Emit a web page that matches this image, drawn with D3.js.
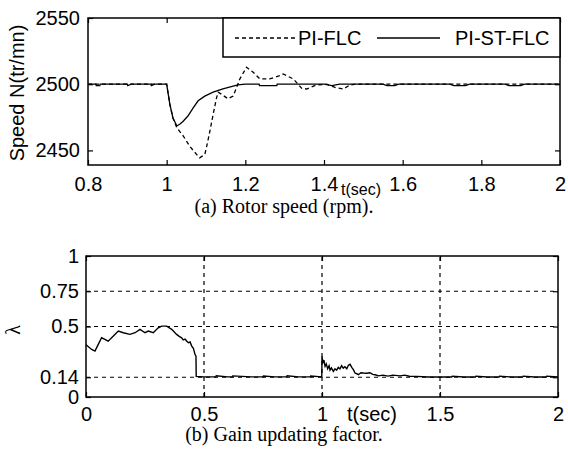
<!DOCTYPE html>
<html>
<head>
<meta charset="utf-8">
<script src="https://cdn.jsdelivr.net/npm/d3@7"></script>
<style>
  body { margin: 0; background: #fff; }
  text { fill: #000; }
</style>
</head>
<body>
<div id="chart"></div>
<script>
// (a) rotor speed, rpm
const flcTime  = [0.8, 1.0, 1.008, 1.016, 1.026, 1.042, 1.059, 1.076, 1.084, 1.097, 1.101, 1.11, 1.118, 1.127, 1.131, 1.139, 1.156, 1.169, 1.178, 1.186, 1.203, 1.22, 1.237, 1.262, 1.288, 1.296, 1.322, 1.343, 1.356, 1.381, 1.407, 1.428, 1.449, 1.466, 1.48, 2.0];
const flcSpeed = [2500, 2500, 2485, 2474.5, 2467, 2461, 2453, 2447, 2444.4, 2447, 2452, 2464.7, 2477, 2490, 2494, 2492.5, 2489, 2491, 2497.6, 2504, 2512.8, 2509, 2504, 2504, 2506.5, 2507.7, 2504, 2497, 2496.4, 2499.4, 2500, 2497.6, 2496.4, 2499.4, 2500, 2500];

const stTime  = [0.8, 0.82, 0.821, 0.83, 0.831, 0.9, 0.901, 0.91, 0.96, 0.961, 0.97, 1.0, 1.008, 1.016, 1.026, 1.034, 1.042, 1.054, 1.067, 1.08, 1.097, 1.118, 1.143, 1.169, 1.181, 1.2, 1.235, 1.236, 1.28, 1.281, 1.4, 1.42, 1.44, 1.55, 1.56, 1.58, 1.59, 1.72, 1.73, 1.76, 1.77, 1.86, 1.87, 1.9, 1.91, 2.0];
const stSpeed = [2500, 2500, 2499, 2499, 2500, 2500, 2499, 2500, 2500, 2499, 2500, 2500, 2485, 2474.5, 2468.5, 2470, 2472, 2476, 2482, 2487.5, 2491, 2494, 2496.5, 2498.5, 2499.5, 2500, 2500, 2499, 2499, 2500, 2500, 2499, 2500, 2500, 2499, 2499, 2500, 2500, 2499, 2499, 2500, 2500, 2499, 2499, 2500, 2500];

const speedTicks = [2450, 2500, 2550];
const timeTicksA = [0.8, 1, 1.2, 1.4, 1.6, 1.8, 2];

// (b) gain updating factor
const lamTime = [0, 0.024, 0.038, 0.052, 0.066, 0.08, 0.094, 0.116, 0.137, 0.158, 0.186, 0.208, 0.229, 0.25, 0.264, 0.285, 0.306, 0.321, 0.342, 0.363, 0.384, 0.395, 0.405, 0.412, 0.42, 0.427, 0.434, 0.441, 0.448, 0.455, 0.462, 0.466, 0.467,
  0.5, 0.55, 0.552, 0.6, 0.62, 0.622, 0.7, 0.75, 0.752, 0.8, 0.85, 0.852, 0.9, 0.95, 0.952, 0.999,
  1.0, 1.004, 1.008, 1.013, 1.018, 1.024, 1.03, 1.034, 1.04, 1.048, 1.055, 1.062, 1.069, 1.076, 1.083, 1.09, 1.097, 1.105, 1.112, 1.119, 1.126, 1.133, 1.14, 1.147, 1.154, 1.165, 1.175, 1.19, 1.203, 1.215, 1.225, 1.24, 1.258, 1.28, 1.3, 1.331, 1.35, 1.37, 1.401,
  1.45, 1.5, 1.55, 1.552, 1.6, 1.65, 1.652, 1.7, 1.75, 1.752, 1.8, 1.85, 1.852, 1.9, 1.95, 1.952, 2.0];
const lamValue = [0.37, 0.337, 0.325, 0.373, 0.42, 0.409, 0.396, 0.432, 0.468, 0.456, 0.444, 0.456, 0.48, 0.456, 0.468, 0.456, 0.491, 0.503, 0.503, 0.48, 0.444, 0.43, 0.42, 0.405, 0.41, 0.396, 0.385, 0.39, 0.361, 0.345, 0.301, 0.289, 0.146,
  0.143, 0.143, 0.15, 0.143, 0.143, 0.15, 0.143, 0.143, 0.149, 0.143, 0.143, 0.15, 0.143, 0.143, 0.149, 0.143,
  0.289, 0.24, 0.262, 0.218, 0.235, 0.2, 0.222, 0.19, 0.206, 0.182, 0.2, 0.19, 0.21, 0.2, 0.222, 0.205, 0.215, 0.2, 0.225, 0.232, 0.21, 0.194, 0.17, 0.165, 0.158, 0.172, 0.17, 0.168, 0.172, 0.16, 0.158, 0.15, 0.155, 0.148, 0.155, 0.15, 0.155, 0.147, 0.146,
  0.142, 0.143, 0.142, 0.148, 0.142, 0.142, 0.148, 0.142, 0.142, 0.148, 0.142, 0.142, 0.148, 0.142, 0.142, 0.148, 0.142];

const lamTicks = [0, 0.14, 0.5, 0.75, 1];
const lamGrid  = [0.14, 0.5, 0.75];
const timeTicksB = [0, 0.5, 1, 1.5, 2];
const timeGridB  = [0.5, 1, 1.5];

const sans = "'Liberation Sans', Arial, sans-serif";
const serif = "'Liberation Serif', 'Times New Roman', serif";

let svg = d3.select("#chart")
            .append("svg")
            .attr("width", 568)
            .attr("height", 450);

// draws frame + inner ticks on all four sides, MATLAB style
function drawFrame(x, y, xTicks, yTicks, pad, xpad) {
    let [x0, x1] = x.range();
    let [y0, y1] = y.range();
    let g = svg.append("g");

    let bottom = d3.axisBottom(x).tickValues(xTicks).tickSizeInner(-5).tickSizeOuter(0)
                   .tickPadding(xpad).tickFormat(d3.format("~g"));
    g.append("g").attr("transform", `translate(0,${y0})`).call(bottom);
    let top = d3.axisTop(x).tickValues(xTicks).tickSizeInner(-5).tickSizeOuter(0).tickFormat("");
    g.append("g").attr("transform", `translate(0,${y1})`).call(top);

    let left = d3.axisLeft(y).tickValues(yTicks).tickSizeInner(-5).tickSizeOuter(0)
                 .tickPadding(pad).tickFormat(d3.format("~g"));
    g.append("g").attr("transform", `translate(${x0},0)`).call(left);
    let right = d3.axisRight(y).tickValues(yTicks).tickSizeInner(-5).tickSizeOuter(0).tickFormat("");
    g.append("g").attr("transform", `translate(${x1},0)`).call(right);

    g.selectAll(".domain").remove();
    g.selectAll(".tick line").attr("stroke", "#000").attr("stroke-width", 1.2);
    g.selectAll(".tick text")
        .style("font-family", sans)
        .style("font-size", "20px")
        .attr("fill", "#000");

    g.append("rect")
        .attr("x", x0).attr("y", y1)
        .attr("width", x1 - x0).attr("height", y0 - y1)
        .attr("fill", "none").attr("stroke", "#000").attr("stroke-width", 1.5);
    return g;
}

// ---------- (a) ----------
let xA = d3.scaleLinear().domain([0.8, 2]).range([88, 560]);
let yA = d3.scaleLinear().domain([2439, 2550]).range([165, 18]);

let lineA = d3.line().x(d => xA(d[0])).y(d => yA(d[1]));

svg.append("path")
    .datum(d3.zip(flcTime, flcSpeed))
    .attr("d", lineA)
    .attr("fill", "none")
    .attr("stroke", "#000")
    .attr("stroke-width", 1.3)
    .attr("stroke-dasharray", "4,3");

svg.append("path")
    .datum(d3.zip(stTime, stSpeed))
    .attr("d", lineA)
    .attr("fill", "none")
    .attr("stroke", "#000")
    .attr("stroke-width", 1.3);

drawFrame(xA, yA, timeTicksA, speedTicks, 8, 12);

// legend
let legend = svg.append("g");
legend.append("rect")
    .attr("x", 223).attr("y", 18)
    .attr("width", 560 - 223).attr("height", 39)
    .attr("fill", "#fff").attr("stroke", "#000").attr("stroke-width", 1.5);
legend.append("line")
    .attr("x1", 235).attr("x2", 295).attr("y1", 38).attr("y2", 38)
    .attr("stroke", "#000").attr("stroke-width", 1.3).attr("stroke-dasharray", "4,3");
legend.append("text")
    .attr("x", 298).attr("y", 45)
    .style("font-family", sans).style("font-size", "20px")
    .text("PI-FLC");
legend.append("line")
    .attr("x1", 377).attr("x2", 440).attr("y1", 38).attr("y2", 38)
    .attr("stroke", "#000").attr("stroke-width", 1.3);
legend.append("text")
    .attr("x", 455).attr("y", 45)
    .style("font-family", sans).style("font-size", "20px")
    .text("PI-ST-FLC");

svg.append("text")
    .attr("transform", "translate(24,93) rotate(-90)")
    .attr("text-anchor", "middle")
    .style("font-family", sans).style("font-size", "20px")
    .text("Speed N(tr/mn)");

svg.append("text")
    .attr("x", 341).attr("y", 195)
    .style("font-family", sans).style("font-size", "16px")
    .text("t(sec)");

svg.append("text")
    .attr("x", 284).attr("y", 213)
    .attr("text-anchor", "middle")
    .style("font-family", serif).style("font-size", "20px")
    .text("(a) Rotor speed (rpm).");

// ---------- (b) ----------
let xB = d3.scaleLinear().domain([0, 2]).range([86, 558]);
let yB = d3.scaleLinear().domain([0, 1]).range([397, 256]);

let grid = svg.append("g");
grid.selectAll(".gx")
    .data(timeGridB)
    .enter()
    .append("line")
    .attr("x1", d => xB(d)).attr("x2", d => xB(d))
    .attr("y1", yB(0)).attr("y2", yB(1));
grid.selectAll(".gy")
    .data(lamGrid)
    .enter()
    .append("line")
    .attr("x1", xB(0)).attr("x2", xB(2))
    .attr("y1", d => yB(d)).attr("y2", d => yB(d));
grid.selectAll("line")
    .attr("stroke", "#000")
    .attr("stroke-width", 1.2)
    .attr("stroke-dasharray", "4,4");

let lineB = d3.line().x(d => xB(d[0])).y(d => yB(d[1]));
svg.append("path")
    .datum(d3.zip(lamTime, lamValue))
    .attr("d", lineB)
    .attr("fill", "none")
    .attr("stroke", "#000")
    .attr("stroke-width", 1.4);

drawFrame(xB, yB, timeTicksB, lamTicks, 7, 10);

svg.append("text")
    .attr("transform", "translate(20,330) rotate(-90)")
    .attr("text-anchor", "middle")
    .style("font-family", serif).style("font-size", "20px")
    .text("λ");

svg.append("text")
    .attr("x", 347).attr("y", 421)
    .style("font-family", sans).style("font-size", "20px")
    .text("t(sec)");

svg.append("text")
    .attr("x", 284).attr("y", 441)
    .attr("text-anchor", "middle")
    .style("font-family", serif).style("font-size", "20px")
    .text("(b) Gain updating factor.");
</script>
</body>
</html>
